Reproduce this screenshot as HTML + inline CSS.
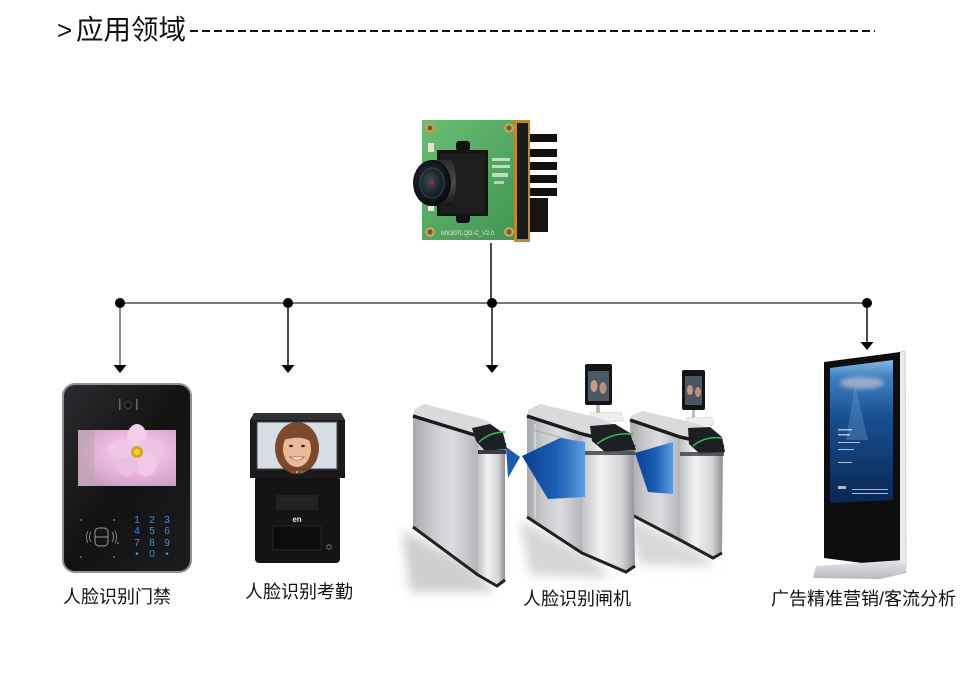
<!DOCTYPE html>
<html><head><meta charset="utf-8">
<style>
html,body{margin:0;padding:0;background:#fff;}
#c{position:relative;width:968px;height:698px;overflow:hidden;background:#fff;font-family:"Liberation Sans","Noto Sans CJK SC",sans-serif;color:#000;}
.t{position:absolute;white-space:nowrap;line-height:1;color:#111;}
svg{position:absolute;left:0;top:0;}
</style></head><body><div id="c">
<svg width="968" height="698" viewBox="0 0 968 698">
<defs>
<linearGradient id="gpcb" x1="0" y1="0" x2="1" y2="1"><stop offset="0" stop-color="#6dbd72"/><stop offset="0.5" stop-color="#55a861"/><stop offset="1" stop-color="#3f9150"/></linearGradient>
<radialGradient id="glens" cx="0.45" cy="0.45" r="0.6"><stop offset="0" stop-color="#3d4b58"/><stop offset="0.5" stop-color="#1a2229"/><stop offset="1" stop-color="#050505"/></radialGradient>
<linearGradient id="gbarrel" x1="0" y1="0" x2="0" y2="1"><stop offset="0" stop-color="#2a2a2c"/><stop offset="0.5" stop-color="#4a4b4e"/><stop offset="1" stop-color="#151516"/></linearGradient>
<linearGradient id="gside" x1="0" y1="0" x2="1" y2="0"><stop offset="0" stop-color="#a6a8ac"/><stop offset="0.3" stop-color="#c9cacd"/><stop offset="0.6" stop-color="#dcdde0"/><stop offset="1" stop-color="#b3b5b9"/></linearGradient>
<linearGradient id="gfront" x1="0" y1="0" x2="1" y2="0"><stop offset="0" stop-color="#bfc1c4"/><stop offset="0.35" stop-color="#f2f2f3"/><stop offset="0.75" stop-color="#d3d4d6"/><stop offset="1" stop-color="#8d9095"/></linearGradient>
<linearGradient id="gblue" x1="0" y1="0" x2="1" y2="0"><stop offset="0" stop-color="#0c3f8f"/><stop offset="0.55" stop-color="#1a5fb5"/><stop offset="1" stop-color="#5b9ddf"/></linearGradient>
<linearGradient id="gks" x1="0" y1="0" x2="0" y2="1"><stop offset="0" stop-color="#86b6e0"/><stop offset="0.12" stop-color="#3f80c2"/><stop offset="0.4" stop-color="#185092"/><stop offset="1" stop-color="#0b2652"/></linearGradient>
<radialGradient id="gpink" cx="0.6" cy="0.4" r="0.7"><stop offset="0" stop-color="#f6d4ef"/><stop offset="0.6" stop-color="#e6b2d8"/><stop offset="1" stop-color="#c99dbd"/></radialGradient>
<linearGradient id="gpanel" x1="0" y1="0" x2="1" y2="1"><stop offset="0" stop-color="#2b2c2f"/><stop offset="0.5" stop-color="#121213"/><stop offset="1" stop-color="#1d1d20"/></linearGradient>
<linearGradient id="gbase" x1="0" y1="0" x2="0" y2="1"><stop offset="0" stop-color="#e4e6ea"/><stop offset="1" stop-color="#b5b8be"/></linearGradient>
<filter id="fb" x="-50%" y="-50%" width="200%" height="200%"><feGaussianBlur stdDeviation="5"/></filter>
<filter id="fb2" x="-50%" y="-50%" width="200%" height="200%"><feGaussianBlur stdDeviation="2"/></filter>
</defs>

<!-- header dashes -->
<line x1="190" y1="31" x2="875" y2="31" stroke="#111" stroke-width="2" stroke-dasharray="8 4"/>

<!-- camera module -->
<rect x="526" y="134" width="31" height="8" fill="#111"/>
<rect x="526" y="149" width="31" height="8" fill="#111"/>
<rect x="526" y="162" width="31" height="8" fill="#111"/>
<rect x="526" y="175" width="31" height="8" fill="#111"/>
<rect x="526" y="188" width="31" height="8" fill="#111"/>
<rect x="526" y="198" width="22" height="34" fill="#151515"/>
<rect x="422" y="120" width="106" height="120" fill="url(#gpcb)"/>
<rect x="514" y="120" width="16" height="122" fill="#b8892f"/>
<rect x="517" y="123" width="11" height="116" fill="#1b1b1b"/>
<circle cx="430" cy="128" r="5" fill="#c9a254"/><circle cx="430" cy="128" r="2.5" fill="#6b5a3a"/>
<circle cx="509" cy="128" r="5" fill="#c9a254"/><circle cx="509" cy="128" r="2.5" fill="#6b5a3a"/>
<circle cx="430" cy="232" r="5" fill="#c9a254"/><circle cx="430" cy="232" r="2.5" fill="#6b5a3a"/>
<circle cx="509" cy="232" r="5" fill="#c9a254"/><circle cx="509" cy="232" r="2.5" fill="#6b5a3a"/>
<rect x="428" y="143" width="6" height="9" fill="#e8e0d0"/>
<rect x="428" y="206" width="6" height="5" fill="#eee"/>
<rect x="456" y="141" width="14" height="10" rx="3" fill="#111"/>
<rect x="456" y="213" width="14" height="10" rx="3" fill="#111"/>
<rect x="437" y="150" width="51" height="66" fill="#141414"/>
<rect x="440" y="153" width="45" height="60" fill="#1e1e1f"/>
<path d="M432 160 L452 160 Q460 182 452 206 L432 206 Z" fill="url(#gbarrel)"/>
<ellipse cx="432" cy="183" rx="19" ry="23" fill="url(#glens)"/>
<ellipse cx="432" cy="183" rx="12" ry="15" fill="none" stroke="#3a444d" stroke-width="1"/>
<circle cx="432" cy="183" r="1.8" fill="#d01818"/>
<rect x="492" y="158" width="18" height="3" fill="#d9ecd9" opacity="0.8"/>
<rect x="492" y="165" width="18" height="3" fill="#d9ecd9" opacity="0.8"/>
<rect x="492" y="173" width="16" height="4" fill="#d9ecd9" opacity="0.8"/>
<rect x="494" y="181" width="10" height="3" fill="#d9ecd9" opacity="0.7"/>
<text x="441" y="235" font-family="Liberation Sans" font-size="6" fill="#dfeedd">MX307LQD-C_V2.0</text>
<line x1="491" y1="243" x2="491" y2="303" stroke="#111" stroke-width="1.5"/>

<!-- connectors -->
<line x1="120" y1="303" x2="867" y2="303" stroke="#7a7a7a" stroke-width="2"/>
<line x1="120" y1="303" x2="120" y2="366" stroke="#666" stroke-width="1.5"/>
<line x1="288" y1="303" x2="288" y2="366" stroke="#111" stroke-width="1.5"/>
<line x1="492" y1="303" x2="492" y2="366" stroke="#111" stroke-width="1.5"/>
<line x1="867" y1="303" x2="867" y2="343" stroke="#111" stroke-width="1.5"/>
<circle cx="120" cy="303" r="5" fill="#000"/>
<circle cx="288" cy="303" r="5" fill="#000"/>
<circle cx="492" cy="303" r="5" fill="#000"/>
<circle cx="867" cy="303" r="5" fill="#000"/>
<polygon points="113.5,365 126.5,365 120,373" fill="#000"/>
<polygon points="281.5,365 294.5,365 288,373" fill="#000"/>
<polygon points="485.5,365 498.5,365 492,373" fill="#000"/>
<polygon points="860.5,342 873.5,342 867,350" fill="#000"/>

<!-- access control panel -->
<rect x="62" y="383" width="130" height="190" rx="13" fill="#8f9194"/>
<rect x="64" y="385" width="126" height="186" rx="11" fill="url(#gpanel)"/>
<rect x="119" y="399" width="1.5" height="11" fill="#666"/>
<rect x="136" y="399" width="1.5" height="11" fill="#666"/>
<circle cx="128" cy="405" r="3.5" fill="#0c1a12" stroke="#444" stroke-width="1"/>
<rect x="78" y="430" width="98" height="56" fill="url(#gpink)"/>
<rect x="78" y="430" width="16" height="56" fill="#b9a7b3" opacity="0.6"/>
<g transform="translate(137,452)">
<ellipse cx="0" cy="-14" rx="10" ry="14" fill="#f4cdea"/>
<ellipse cx="14" cy="-4" rx="14" ry="9" fill="#efc3e4"/>
<ellipse cx="9" cy="12" rx="11" ry="12" fill="#f2c8e8"/>
<ellipse cx="-10" cy="12" rx="11" ry="12" fill="#eabfe0"/>
<ellipse cx="-16" cy="-3" rx="14" ry="9" fill="#f0c6e6"/>
<circle cx="0" cy="0" r="6" fill="#d7a81d"/>
<circle cx="0" cy="0" r="3" fill="#f0d23a"/>
</g>
<g font-family="Liberation Sans" font-size="10" fill="#3b8fd6" text-anchor="middle">
<text x="137" y="523">1</text><text x="152" y="523">2</text><text x="167" y="523">3</text>
<text x="137" y="534">4</text><text x="152" y="534">5</text><text x="167" y="534">6</text>
<text x="137" y="546">7</text><text x="152" y="546">8</text><text x="167" y="546">9</text>
<text x="137" y="557">•</text><text x="152" y="557">0</text><text x="167" y="557">•</text>
</g>
<rect x="95" y="528" width="13" height="18" rx="4" fill="none" stroke="#9a9a9a" stroke-width="1"/>
<line x1="95" y1="537" x2="108" y2="537" stroke="#9a9a9a" stroke-width="1"/>
<path d="M91 532 Q88 537 91 542 M88 531 Q85 537 88 543 M112 532 Q115 537 112 542 M115 531 Q118 537 115 543" fill="none" stroke="#9a9a9a" stroke-width="0.8"/>
<circle cx="81" cy="520" r="0.9" fill="#888"/><circle cx="114" cy="520" r="0.9" fill="#888"/>
<circle cx="81" cy="557" r="0.9" fill="#888"/><circle cx="114" cy="557" r="0.9" fill="#888"/>
<circle cx="118" cy="543" r="0.9" fill="#888"/>

<!-- attendance device -->
<rect x="255" y="476" width="85" height="87" rx="4" fill="#141416"/>
<polygon points="254,413 341,413 345,420 345,478 250,478 250,420" fill="#1a1a1c"/>
<polygon points="254,413 341,413 345,420 250,420" fill="#2e2f32"/>
<rect x="257" y="422" width="80" height="47" fill="#dfe5ea"/>
<rect x="257" y="422" width="80" height="47" fill="#c9d3db" opacity="0.4"/>
<ellipse cx="297" cy="448" rx="22" ry="26" fill="#7b4a2c"/>
<ellipse cx="297" cy="449" rx="14" ry="18" fill="#eab99b"/>
<path d="M283 440 Q290 428 306 432 Q312 436 313 444 Q305 434 283 440 Z" fill="#7b4a2c"/>
<ellipse cx="291" cy="446" rx="2" ry="1.2" fill="#3b2a22"/>
<ellipse cx="303" cy="446" rx="2" ry="1.2" fill="#3b2a22"/>
<path d="M290 457 Q297 463 304 457 Z" fill="#fff" stroke="#b5504a" stroke-width="0.8"/>
<rect x="257" y="422" width="80" height="47" fill="none" stroke="#444" stroke-width="1"/>
<circle cx="292" cy="472" r="1" fill="#e03030"/><circle cx="297" cy="472" r="1" fill="#e0c030"/><circle cx="302" cy="472" r="1" fill="#30c040"/>
<rect x="276" y="495" width="42" height="15" fill="#222"/>
<g fill="#3a3a3a">
<circle cx="280" cy="499" r="0.8"/><circle cx="284" cy="499" r="0.8"/><circle cx="288" cy="499" r="0.8"/><circle cx="292" cy="499" r="0.8"/><circle cx="296" cy="499" r="0.8"/><circle cx="300" cy="499" r="0.8"/><circle cx="304" cy="499" r="0.8"/><circle cx="308" cy="499" r="0.8"/><circle cx="312" cy="499" r="0.8"/>
<circle cx="280" cy="505" r="0.8"/><circle cx="284" cy="505" r="0.8"/><circle cx="288" cy="505" r="0.8"/><circle cx="292" cy="505" r="0.8"/><circle cx="296" cy="505" r="0.8"/><circle cx="300" cy="505" r="0.8"/><circle cx="304" cy="505" r="0.8"/><circle cx="308" cy="505" r="0.8"/><circle cx="312" cy="505" r="0.8"/>
</g>
<text x="297" y="522" font-family="Liberation Sans" font-size="8" fill="#e8e8e8" text-anchor="middle" font-weight="bold">en</text>
<rect x="273" y="526" width="48" height="24" fill="#0b0b0c" stroke="#262628" stroke-width="1"/>
<circle cx="329" cy="547" r="2.3" fill="none" stroke="#888" stroke-width="0.8"/>

<!-- gate shadows -->
<polygon points="402,530 470,565 495,592 410,592" fill="#cfcfd0" filter="url(#fb)"/>
<polygon points="520,520 595,560 610,578 530,575" fill="#d6d6d7" filter="url(#fb)"/>
<polygon points="625,515 700,552 715,566 640,565" fill="#d8d8d9" filter="url(#fb)"/>

<!-- gate 3 -->
<rect x="682" y="370" width="23" height="40" rx="2" fill="#151515"/>
<rect x="685" y="376" width="17" height="29" fill="#4a5666"/>
<ellipse cx="690" cy="390" rx="3" ry="5" fill="#c49a80"/><ellipse cx="698" cy="392" rx="3" ry="5" fill="#b88f78"/>
<rect x="692" y="410" width="3" height="10" fill="#bbb"/>
<polygon points="686,418 712,417 714,425 688,426" fill="#eeeeef" stroke="#ccc" stroke-width="0.5"/>
<polygon points="630,420 680,434 680,540 632,515" fill="url(#gside)"/>
<polygon points="680,434 723,446 722,553 713,558 680,540" fill="url(#gfront)"/>
<polygon points="631,416 642,411 695,423 712,430 723,442 680,436 631,422" fill="#d9dadc"/>
<polyline points="630,420 680,437 724,447" fill="none" stroke="#1b1b1d" stroke-width="3.5"/>
<polygon points="688,428 710,427 722,437 725,452 700,454 689,444" fill="#1c1f23"/>
<path d="M693 446 Q705 436 722 438" fill="none" stroke="#2fbf5a" stroke-width="1.5"/>
<rect x="680" y="452" width="44" height="4" fill="#3a3b3e" opacity="0.8"/>
<polyline points="632,515 680,540 713,558 722,553" fill="none" stroke="#222" stroke-width="3"/>
<polygon points="635,453 673,442 673,494 648,492" fill="url(#gblue)"/>

<!-- gate 2 -->
<rect x="585" y="364" width="27" height="41" rx="2" fill="#151515"/>
<rect x="588" y="371" width="21" height="30" fill="#4b5868"/>
<ellipse cx="594" cy="386" rx="3.5" ry="6" fill="#c49a80"/><ellipse cx="603" cy="388" rx="3.5" ry="6" fill="#b88f78"/>
<rect x="596" y="405" width="4" height="11" fill="#bbb"/>
<polygon points="590,413 621,412 624,421 593,422" fill="#eeeeef" stroke="#ccc" stroke-width="0.5"/>
<polygon points="527,414 582,430 582,553 527,517" fill="url(#gside)"/>
<line x1="535" y1="424" x2="535" y2="518" stroke="#e4e5e7" stroke-width="1"/>
<line x1="534" y1="430" x2="580" y2="443" stroke="#9fa1a5" stroke-width="0.8"/>
<polygon points="582,430 633,445 635,566 626,572 582,553" fill="url(#gfront)"/>
<polygon points="528,410 540,404 600,418 622,428 634,440 582,433 528,416" fill="#d9dadc"/>
<polyline points="527,416 582,434 635,447" fill="none" stroke="#1b1b1d" stroke-width="3.5"/>
<polygon points="590,426 615,424 630,433 636,450 605,452 592,441" fill="#1c1f23"/>
<path d="M597 444 Q612 432 633 434" fill="none" stroke="#2fbf5a" stroke-width="1.5"/>
<rect x="582" y="451" width="53" height="4" fill="#3a3b3e" opacity="0.8"/>
<polyline points="527,517 582,553 626,572 635,566" fill="none" stroke="#222" stroke-width="3"/>
<polygon points="522,456 560,438 585,442 585,497 548,499" fill="url(#gblue)"/>
<polygon points="506,447 520,457 508,478" fill="#1a5cb0"/>

<!-- gate 1 -->
<polygon points="413,414 478,432 478,575 413,527" fill="url(#gside)"/>
<polygon points="478,432 505,441 505,580 497,586 478,575" fill="url(#gfront)"/>
<polygon points="414,410 424,404 486,420 500,430 506,440 480,436 414,416" fill="#d9dadc"/>
<polyline points="413,416 478,436 506,445" fill="none" stroke="#1b1b1d" stroke-width="3.5"/>
<polygon points="472,428 490,424 503,433 507,449 485,451 476,441" fill="#1c1f23"/>
<path d="M479 442 Q490 432 505 432" fill="none" stroke="#2fbf5a" stroke-width="1.5"/>
<rect x="478" y="450" width="28" height="4" fill="#3a3b3e"/>
<polyline points="413,527 478,575 497,586 505,580" fill="none" stroke="#222" stroke-width="3"/>

<!-- kiosk -->
<polygon points="897,353 905,351 906,568 898,570" fill="#ececee" stroke="#c4c4c6" stroke-width="0.8"/>
<polygon points="824,362 900,352 900,568 824,558" fill="#0e0e10"/>
<polygon points="830,368 893,360 893,500 830,503" fill="url(#gks)"/>
<ellipse cx="862" cy="383" rx="22" ry="6" fill="#f0d0d8" opacity="0.55" filter="url(#fb2)"/>
<polygon points="855,385 846,440 868,440" fill="#8fc0ea" opacity="0.25"/>
<g fill="#e0ecf8" opacity="0.75">
<rect x="838" y="429" width="14" height="1.5"/><rect x="838" y="434" width="12" height="1.5"/>
<rect x="838" y="442" width="22" height="1"/><rect x="838" y="449" width="16" height="1"/>
<rect x="838" y="462" width="14" height="1"/><rect x="838" y="486" width="8" height="3"/>
<rect x="852" y="489" width="36" height="1"/><rect x="852" y="493" width="36" height="1"/>
</g>
<polygon points="816,566 903,560 907,573 880,579 813,578" fill="url(#gbase)"/>
</svg>

<div class="t" style="left:57px;top:17px;font-size:26px;">&gt;</div>
<div class="t" style="left:76px;top:16px;font-size:27.5px;">应用领域</div>
<div class="t" style="left:63px;top:588px;font-size:18px;">人脸识别门禁</div>
<div class="t" style="left:245px;top:583px;font-size:18px;">人脸识别考勤</div>
<div class="t" style="left:523px;top:590px;font-size:18px;">人脸识别闸机</div>
<div class="t" style="left:771px;top:590px;font-size:18px;">广告精准营销/客流分析</div>
</div></body></html>
